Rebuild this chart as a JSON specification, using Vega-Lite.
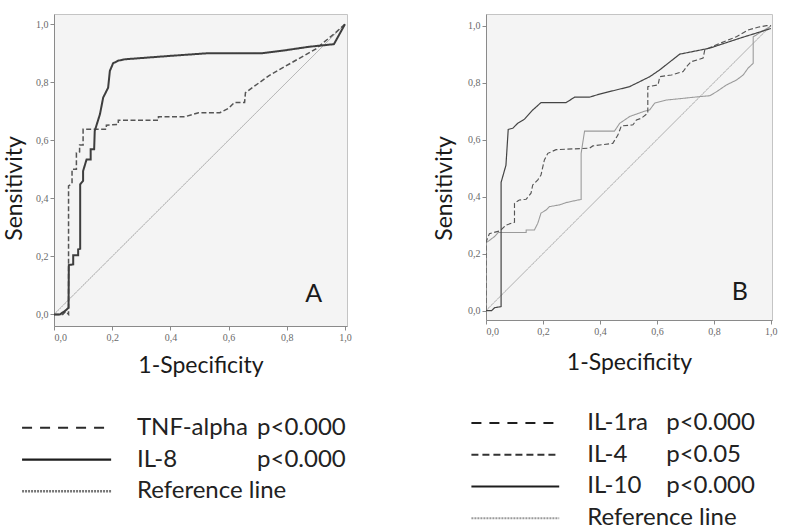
{
  "$schema": "https://vega.github.io/schema/vega-lite/v6.json",
  "background": "white",
  "padding": {"left": 3, "top": 13, "right": 0, "bottom": 0},
  "config": {
    "view": {"fill": "#f4f4f4", "stroke": "#c4c4c4", "strokeWidth": 1},
    "axis": {
      "grid": false,
      "domainColor": "#8a8a8a",
      "tickColor": "#8a8a8a",
      "tickSize": 4,
      "labelFont": "Liberation Serif",
      "labelFontSize": 10,
      "labelColor": "#6a6a6a",
      "labelPadding": 2,
      "titleFont": "Lato",
      "titleFontSize": 23,
      "titleFontWeight": "normal",
      "titleColor": "#1a1a1a"
    },
    "text": {"font": "Lato"}
  },
  "resolve": {"scale": {"x": "independent", "y": "independent", "color": "independent", "strokeDash": "independent", "strokeWidth": "independent"}},
  "spacing": 81,
  "datasets": {
    "curves": [
      {"panel": "A", "series": "Reference", "k": 0, "x": 0, "y": 0},
      {"panel": "A", "series": "Reference", "k": 1, "x": 1, "y": 1},
      {"panel": "A", "series": "TNF-alpha", "k": 0, "x": 0, "y": 0},
      {"panel": "A", "series": "TNF-alpha", "k": 1, "x": 0.03, "y": 0},
      {"panel": "A", "series": "TNF-alpha", "k": 2, "x": 0.04, "y": 0.01},
      {"panel": "A", "series": "TNF-alpha", "k": 3, "x": 0.05, "y": 0},
      {"panel": "A", "series": "TNF-alpha", "k": 4, "x": 0.05, "y": 0.443},
      {"panel": "A", "series": "TNF-alpha", "k": 5, "x": 0.062, "y": 0.45},
      {"panel": "A", "series": "TNF-alpha", "k": 6, "x": 0.062, "y": 0.5},
      {"panel": "A", "series": "TNF-alpha", "k": 7, "x": 0.077, "y": 0.5},
      {"panel": "A", "series": "TNF-alpha", "k": 8, "x": 0.077, "y": 0.557},
      {"panel": "A", "series": "TNF-alpha", "k": 9, "x": 0.088, "y": 0.56},
      {"panel": "A", "series": "TNF-alpha", "k": 10, "x": 0.088, "y": 0.584},
      {"panel": "A", "series": "TNF-alpha", "k": 11, "x": 0.1, "y": 0.584},
      {"panel": "A", "series": "TNF-alpha", "k": 12, "x": 0.1, "y": 0.638},
      {"panel": "A", "series": "TNF-alpha", "k": 13, "x": 0.18, "y": 0.638},
      {"panel": "A", "series": "TNF-alpha", "k": 14, "x": 0.18, "y": 0.652},
      {"panel": "A", "series": "TNF-alpha", "k": 15, "x": 0.221, "y": 0.655},
      {"panel": "A", "series": "TNF-alpha", "k": 16, "x": 0.221, "y": 0.669},
      {"panel": "A", "series": "TNF-alpha", "k": 17, "x": 0.359, "y": 0.669},
      {"panel": "A", "series": "TNF-alpha", "k": 18, "x": 0.359, "y": 0.681},
      {"panel": "A", "series": "TNF-alpha", "k": 19, "x": 0.45, "y": 0.681},
      {"panel": "A", "series": "TNF-alpha", "k": 20, "x": 0.497, "y": 0.695},
      {"panel": "A", "series": "TNF-alpha", "k": 21, "x": 0.57, "y": 0.695},
      {"panel": "A", "series": "TNF-alpha", "k": 22, "x": 0.6, "y": 0.71},
      {"panel": "A", "series": "TNF-alpha", "k": 23, "x": 0.62, "y": 0.73},
      {"panel": "A", "series": "TNF-alpha", "k": 24, "x": 0.655, "y": 0.73},
      {"panel": "A", "series": "TNF-alpha", "k": 25, "x": 0.658, "y": 0.764},
      {"panel": "A", "series": "TNF-alpha", "k": 26, "x": 0.738, "y": 0.822},
      {"panel": "A", "series": "TNF-alpha", "k": 27, "x": 0.818, "y": 0.868},
      {"panel": "A", "series": "TNF-alpha", "k": 28, "x": 0.899, "y": 0.914},
      {"panel": "A", "series": "TNF-alpha", "k": 29, "x": 0.968, "y": 0.971},
      {"panel": "A", "series": "TNF-alpha", "k": 30, "x": 1, "y": 1},
      {"panel": "A", "series": "IL-8", "k": 0, "x": 0, "y": 0},
      {"panel": "A", "series": "IL-8", "k": 1, "x": 0.02, "y": 0},
      {"panel": "A", "series": "IL-8", "k": 2, "x": 0.037, "y": 0.011},
      {"panel": "A", "series": "IL-8", "k": 3, "x": 0.05, "y": 0.023},
      {"panel": "A", "series": "IL-8", "k": 4, "x": 0.051, "y": 0.17},
      {"panel": "A", "series": "IL-8", "k": 5, "x": 0.066, "y": 0.172},
      {"panel": "A", "series": "IL-8", "k": 6, "x": 0.066, "y": 0.204},
      {"panel": "A", "series": "IL-8", "k": 7, "x": 0.083, "y": 0.204},
      {"panel": "A", "series": "IL-8", "k": 8, "x": 0.083, "y": 0.224},
      {"panel": "A", "series": "IL-8", "k": 9, "x": 0.09, "y": 0.226},
      {"panel": "A", "series": "IL-8", "k": 10, "x": 0.09, "y": 0.448},
      {"panel": "A", "series": "IL-8", "k": 11, "x": 0.1, "y": 0.46},
      {"panel": "A", "series": "IL-8", "k": 12, "x": 0.1, "y": 0.494},
      {"panel": "A", "series": "IL-8", "k": 13, "x": 0.112, "y": 0.534},
      {"panel": "A", "series": "IL-8", "k": 14, "x": 0.126, "y": 0.534},
      {"panel": "A", "series": "IL-8", "k": 15, "x": 0.126, "y": 0.569},
      {"panel": "A", "series": "IL-8", "k": 16, "x": 0.138, "y": 0.569},
      {"panel": "A", "series": "IL-8", "k": 17, "x": 0.14, "y": 0.632},
      {"panel": "A", "series": "IL-8", "k": 18, "x": 0.158, "y": 0.69},
      {"panel": "A", "series": "IL-8", "k": 19, "x": 0.169, "y": 0.747},
      {"panel": "A", "series": "IL-8", "k": 20, "x": 0.186, "y": 0.781},
      {"panel": "A", "series": "IL-8", "k": 21, "x": 0.192, "y": 0.839},
      {"panel": "A", "series": "IL-8", "k": 22, "x": 0.203, "y": 0.865},
      {"panel": "A", "series": "IL-8", "k": 23, "x": 0.22, "y": 0.874},
      {"panel": "A", "series": "IL-8", "k": 24, "x": 0.244, "y": 0.879},
      {"panel": "A", "series": "IL-8", "k": 25, "x": 0.39, "y": 0.89},
      {"panel": "A", "series": "IL-8", "k": 26, "x": 0.53, "y": 0.9},
      {"panel": "A", "series": "IL-8", "k": 27, "x": 0.715, "y": 0.9},
      {"panel": "A", "series": "IL-8", "k": 28, "x": 0.795, "y": 0.91},
      {"panel": "A", "series": "IL-8", "k": 29, "x": 0.876, "y": 0.922},
      {"panel": "A", "series": "IL-8", "k": 30, "x": 0.962, "y": 0.931},
      {"panel": "A", "series": "IL-8", "k": 31, "x": 1, "y": 1},
      {"panel": "B", "series": "Reference", "k": 0, "x": 0, "y": 0},
      {"panel": "B", "series": "Reference", "k": 1, "x": 1, "y": 1},
      {"panel": "B", "series": "IL-4", "k": 0, "x": 0, "y": 0},
      {"panel": "B", "series": "IL-4", "k": 1, "x": 0, "y": 0.24},
      {"panel": "B", "series": "IL-4", "k": 2, "x": 0.006, "y": 0.242},
      {"panel": "B", "series": "IL-4", "k": 3, "x": 0.03, "y": 0.26},
      {"panel": "B", "series": "IL-4", "k": 4, "x": 0.043, "y": 0.274},
      {"panel": "B", "series": "IL-4", "k": 5, "x": 0.141, "y": 0.274},
      {"panel": "B", "series": "IL-4", "k": 6, "x": 0.141, "y": 0.283},
      {"panel": "B", "series": "IL-4", "k": 7, "x": 0.17, "y": 0.283},
      {"panel": "B", "series": "IL-4", "k": 8, "x": 0.182, "y": 0.307},
      {"panel": "B", "series": "IL-4", "k": 9, "x": 0.193, "y": 0.342},
      {"panel": "B", "series": "IL-4", "k": 10, "x": 0.211, "y": 0.353},
      {"panel": "B", "series": "IL-4", "k": 11, "x": 0.223, "y": 0.365},
      {"panel": "B", "series": "IL-4", "k": 12, "x": 0.258, "y": 0.371},
      {"panel": "B", "series": "IL-4", "k": 13, "x": 0.281, "y": 0.379},
      {"panel": "B", "series": "IL-4", "k": 14, "x": 0.322, "y": 0.388},
      {"panel": "B", "series": "IL-4", "k": 15, "x": 0.334, "y": 0.39},
      {"panel": "B", "series": "IL-4", "k": 16, "x": 0.334, "y": 0.552},
      {"panel": "B", "series": "IL-4", "k": 17, "x": 0.346, "y": 0.63},
      {"panel": "B", "series": "IL-4", "k": 18, "x": 0.451, "y": 0.63},
      {"panel": "B", "series": "IL-4", "k": 19, "x": 0.469, "y": 0.657},
      {"panel": "B", "series": "IL-4", "k": 20, "x": 0.504, "y": 0.681},
      {"panel": "B", "series": "IL-4", "k": 21, "x": 0.551, "y": 0.698},
      {"panel": "B", "series": "IL-4", "k": 22, "x": 0.575, "y": 0.705},
      {"panel": "B", "series": "IL-4", "k": 23, "x": 0.592, "y": 0.728},
      {"panel": "B", "series": "IL-4", "k": 24, "x": 0.633, "y": 0.739},
      {"panel": "B", "series": "IL-4", "k": 25, "x": 0.692, "y": 0.745},
      {"panel": "B", "series": "IL-4", "k": 26, "x": 0.75, "y": 0.751},
      {"panel": "B", "series": "IL-4", "k": 27, "x": 0.785, "y": 0.754},
      {"panel": "B", "series": "IL-4", "k": 28, "x": 0.809, "y": 0.768},
      {"panel": "B", "series": "IL-4", "k": 29, "x": 0.844, "y": 0.792},
      {"panel": "B", "series": "IL-4", "k": 30, "x": 0.879, "y": 0.809},
      {"panel": "B", "series": "IL-4", "k": 31, "x": 0.903, "y": 0.827},
      {"panel": "B", "series": "IL-4", "k": 32, "x": 0.92, "y": 0.851},
      {"panel": "B", "series": "IL-4", "k": 33, "x": 0.938, "y": 0.868},
      {"panel": "B", "series": "IL-4", "k": 34, "x": 0.938, "y": 0.961},
      {"panel": "B", "series": "IL-4", "k": 35, "x": 0.996, "y": 0.996},
      {"panel": "B", "series": "IL-4", "k": 36, "x": 1, "y": 1},
      {"panel": "B", "series": "IL-1ra", "k": 0, "x": 0, "y": 0},
      {"panel": "B", "series": "IL-1ra", "k": 1, "x": 0, "y": 0.24},
      {"panel": "B", "series": "IL-1ra", "k": 2, "x": 0.012, "y": 0.27},
      {"panel": "B", "series": "IL-1ra", "k": 3, "x": 0.05, "y": 0.28},
      {"panel": "B", "series": "IL-1ra", "k": 4, "x": 0.06, "y": 0.29},
      {"panel": "B", "series": "IL-1ra", "k": 5, "x": 0.07, "y": 0.3},
      {"panel": "B", "series": "IL-1ra", "k": 6, "x": 0.1, "y": 0.31},
      {"panel": "B", "series": "IL-1ra", "k": 7, "x": 0.1, "y": 0.377},
      {"panel": "B", "series": "IL-1ra", "k": 8, "x": 0.117, "y": 0.388},
      {"panel": "B", "series": "IL-1ra", "k": 9, "x": 0.141, "y": 0.391},
      {"panel": "B", "series": "IL-1ra", "k": 10, "x": 0.158, "y": 0.412},
      {"panel": "B", "series": "IL-1ra", "k": 11, "x": 0.164, "y": 0.441},
      {"panel": "B", "series": "IL-1ra", "k": 12, "x": 0.182, "y": 0.459},
      {"panel": "B", "series": "IL-1ra", "k": 13, "x": 0.193, "y": 0.476},
      {"panel": "B", "series": "IL-1ra", "k": 14, "x": 0.205, "y": 0.529},
      {"panel": "B", "series": "IL-1ra", "k": 15, "x": 0.217, "y": 0.552},
      {"panel": "B", "series": "IL-1ra", "k": 16, "x": 0.246, "y": 0.565},
      {"panel": "B", "series": "IL-1ra", "k": 17, "x": 0.363, "y": 0.57},
      {"panel": "B", "series": "IL-1ra", "k": 18, "x": 0.375, "y": 0.578},
      {"panel": "B", "series": "IL-1ra", "k": 19, "x": 0.445, "y": 0.587},
      {"panel": "B", "series": "IL-1ra", "k": 20, "x": 0.463, "y": 0.616},
      {"panel": "B", "series": "IL-1ra", "k": 21, "x": 0.475, "y": 0.648},
      {"panel": "B", "series": "IL-1ra", "k": 22, "x": 0.516, "y": 0.652},
      {"panel": "B", "series": "IL-1ra", "k": 23, "x": 0.528, "y": 0.669},
      {"panel": "B", "series": "IL-1ra", "k": 24, "x": 0.545, "y": 0.675},
      {"panel": "B", "series": "IL-1ra", "k": 25, "x": 0.568, "y": 0.693},
      {"panel": "B", "series": "IL-1ra", "k": 26, "x": 0.568, "y": 0.786},
      {"panel": "B", "series": "IL-1ra", "k": 27, "x": 0.604, "y": 0.792},
      {"panel": "B", "series": "IL-1ra", "k": 28, "x": 0.61, "y": 0.821},
      {"panel": "B", "series": "IL-1ra", "k": 29, "x": 0.651, "y": 0.827},
      {"panel": "B", "series": "IL-1ra", "k": 30, "x": 0.692, "y": 0.839},
      {"panel": "B", "series": "IL-1ra", "k": 31, "x": 0.709, "y": 0.862},
      {"panel": "B", "series": "IL-1ra", "k": 32, "x": 0.721, "y": 0.874},
      {"panel": "B", "series": "IL-1ra", "k": 33, "x": 0.762, "y": 0.886},
      {"panel": "B", "series": "IL-1ra", "k": 34, "x": 0.768, "y": 0.915},
      {"panel": "B", "series": "IL-1ra", "k": 35, "x": 0.821, "y": 0.938},
      {"panel": "B", "series": "IL-1ra", "k": 36, "x": 0.879, "y": 0.961},
      {"panel": "B", "series": "IL-1ra", "k": 37, "x": 0.92, "y": 0.985},
      {"panel": "B", "series": "IL-1ra", "k": 38, "x": 0.961, "y": 0.996},
      {"panel": "B", "series": "IL-1ra", "k": 39, "x": 0.985, "y": 1},
      {"panel": "B", "series": "IL-1ra", "k": 40, "x": 1, "y": 1},
      {"panel": "B", "series": "IL-10", "k": 0, "x": 0, "y": 0},
      {"panel": "B", "series": "IL-10", "k": 1, "x": 0.02, "y": 0},
      {"panel": "B", "series": "IL-10", "k": 2, "x": 0.03, "y": 0.01},
      {"panel": "B", "series": "IL-10", "k": 3, "x": 0.053, "y": 0.014},
      {"panel": "B", "series": "IL-10", "k": 4, "x": 0.053, "y": 0.45},
      {"panel": "B", "series": "IL-10", "k": 5, "x": 0.07, "y": 0.51},
      {"panel": "B", "series": "IL-10", "k": 6, "x": 0.078, "y": 0.636},
      {"panel": "B", "series": "IL-10", "k": 7, "x": 0.094, "y": 0.64},
      {"panel": "B", "series": "IL-10", "k": 8, "x": 0.111, "y": 0.657},
      {"panel": "B", "series": "IL-10", "k": 9, "x": 0.135, "y": 0.672},
      {"panel": "B", "series": "IL-10", "k": 10, "x": 0.164, "y": 0.704},
      {"panel": "B", "series": "IL-10", "k": 11, "x": 0.193, "y": 0.73},
      {"panel": "B", "series": "IL-10", "k": 12, "x": 0.281, "y": 0.73},
      {"panel": "B", "series": "IL-10", "k": 13, "x": 0.311, "y": 0.749},
      {"panel": "B", "series": "IL-10", "k": 14, "x": 0.363, "y": 0.749},
      {"panel": "B", "series": "IL-10", "k": 15, "x": 0.399, "y": 0.76},
      {"panel": "B", "series": "IL-10", "k": 16, "x": 0.504, "y": 0.786},
      {"panel": "B", "series": "IL-10", "k": 17, "x": 0.575, "y": 0.821},
      {"panel": "B", "series": "IL-10", "k": 18, "x": 0.61, "y": 0.845},
      {"panel": "B", "series": "IL-10", "k": 19, "x": 0.68, "y": 0.9},
      {"panel": "B", "series": "IL-10", "k": 20, "x": 0.785, "y": 0.921},
      {"panel": "B", "series": "IL-10", "k": 21, "x": 0.891, "y": 0.956},
      {"panel": "B", "series": "IL-10", "k": 22, "x": 1, "y": 0.99}
    ],
    "legend": [
      {"panel": "A", "row": 1, "series": "TNF-alpha", "label": "TNF-alpha", "p": "p<0.000"},
      {"panel": "A", "row": 2, "series": "IL-8", "label": "IL-8", "p": "p<0.000"},
      {"panel": "A", "row": 3, "series": "Reference line", "label": "Reference line", "p": ""},
      {"panel": "B", "row": 1, "series": "IL-1ra", "label": "IL-1ra", "p": "p<0.000"},
      {"panel": "B", "row": 2, "series": "IL-4", "label": "IL-4", "p": "p<0.05"},
      {"panel": "B", "row": 3, "series": "IL-10", "label": "IL-10", "p": "p<0.000"},
      {"panel": "B", "row": 4, "series": "Reference line", "label": "Reference line", "p": ""}
    ],
    "tags": [
      {"panel": "A", "tag": "A", "x": 0.893, "y": 0.07},
      {"panel": "B", "tag": "B", "x": 0.891, "y": 0.066}
    ]
  },
  "hconcat": [
    {
      "spacing": 34,
      "resolve": {"scale": {"x": "independent", "y": "independent", "color": "independent", "strokeDash": "independent", "strokeWidth": "independent"}},
      "vconcat": [
        {
          "width": 293,
          "height": 312,
          "layer": [
            {
              "data": {"name": "curves"},
              "transform": [{"filter": "datum.panel === 'A'"}],
              "mark": {"type": "line", "clip": true},
              "encoding": {
                "x": {"field": "x", "type": "quantitative", "scale": {"domain": [0, 1.007], "nice": false, "zero": false},
                  "axis": {"title": "1-Specificity", "values": [0, 0.2, 0.4, 0.6, 0.8, 1], "labelExpr": "replace(format(datum.value, '.1f'), '.', ',')", "titlePadding": 12}},
                "y": {"field": "y", "type": "quantitative", "scale": {"domain": [-0.04, 1.035], "nice": false, "zero": false},
                  "axis": {"title": "Sensitivity", "values": [0, 0.2, 0.4, 0.6, 0.8, 1], "labelExpr": "replace(format(datum.value, '.1f'), '.', ',')", "titlePadding": 9, "titleY": 174}},
                "order": {"field": "k", "type": "quantitative"},
                "color": {"field": "series", "type": "nominal", "legend": null,
                  "scale": {"domain": ["Reference", "TNF-alpha", "IL-8"], "range": ["#a8a8a8", "#555555", "#3e3e3e"]}},
                "strokeDash": {"field": "series", "type": "nominal", "legend": null,
                  "scale": {"domain": ["Reference", "TNF-alpha", "IL-8"], "range": [[1, 0], [5, 2.5], [1, 0]]}},
                "strokeWidth": {"field": "series", "type": "nominal", "legend": null,
                  "scale": {"domain": ["Reference", "TNF-alpha", "IL-8"], "range": [1, 2, 2]}}
              }
            },
            {
              "data": {"name": "tags"},
              "transform": [{"filter": "datum.panel === 'A'"}],
              "mark": {"type": "text", "fontSize": 25, "font": "Lato", "color": "#1a1a1a", "align": "center", "baseline": "middle"},
              "encoding": {
                "x": {"field": "x", "type": "quantitative"},
                "y": {"field": "y", "type": "quantitative"},
                "text": {"field": "tag"}
              }
            }
          ]
        },
        {
          "width": 293,
          "height": 95,
          "view": {"fill": null, "stroke": null},
          "data": {"name": "legend"},
          "transform": [{"filter": "datum.panel === 'A'"}],
          "encoding": {
            "y": {"field": "row", "type": "ordinal", "scale": {"type": "point", "padding": 0.5}, "axis": null}
          },
          "layer": [
            {
              "mark": {"type": "rule"},
              "encoding": {
                "x": {"datum": -0.109, "type": "quantitative", "scale": {"domain": [0, 1], "nice": false, "zero": false}, "axis": null},
                "x2": {"datum": 0.195},
                "color": {"field": "series", "type": "nominal", "legend": null,
                  "scale": {"domain": ["TNF-alpha", "IL-8", "Reference line"], "range": ["#2a2a2a", "#1e1e1e", "#777777"]}},
                "strokeDash": {"field": "series", "type": "nominal", "legend": null,
                  "scale": {"domain": ["TNF-alpha", "IL-8", "Reference line"], "range": [[10, 8], [1, 0], [2, 1]]}},
                "strokeWidth": {"field": "series", "type": "nominal", "legend": null,
                  "scale": {"domain": ["TNF-alpha", "IL-8", "Reference line"], "range": [2, 2.5, 1]}}
              }
            },
            {
              "mark": {"type": "text", "align": "left", "baseline": "middle", "fontSize": 24, "font": "Lato", "color": "#222222"},
              "encoding": {
                "x": {"datum": 0.283, "type": "quantitative"},
                "text": {"field": "label"}
              }
            },
            {
              "mark": {"type": "text", "align": "left", "baseline": "middle", "fontSize": 24, "font": "Lato", "color": "#222222"},
              "encoding": {
                "x": {"datum": 0.693, "type": "quantitative"},
                "text": {"field": "p"}
              }
            }
          ]
        }
      ]
    },
    {
      "spacing": 32,
      "resolve": {"scale": {"x": "independent", "y": "independent", "color": "independent", "strokeDash": "independent", "strokeWidth": "independent"}},
      "vconcat": [
        {
          "width": 286,
          "height": 306,
          "layer": [
            {
              "data": {"name": "curves"},
              "transform": [{"filter": "datum.panel === 'B'"}],
              "mark": {"type": "line", "clip": true},
              "encoding": {
                "x": {"field": "x", "type": "quantitative", "scale": {"domain": [0, 1.004], "nice": false, "zero": false},
                  "axis": {"title": "1-Specificity", "values": [0, 0.2, 0.4, 0.6, 0.8, 1], "labelExpr": "replace(format(datum.value, '.1f'), '.', ',')", "titlePadding": 15}},
                "y": {"field": "y", "type": "quantitative", "scale": {"domain": [-0.033, 1.041], "nice": false, "zero": false},
                  "axis": {"title": "Sensitivity", "values": [0, 0.2, 0.4, 0.6, 0.8, 1], "labelExpr": "replace(format(datum.value, '.1f'), '.', ',')", "titlePadding": 11, "titleY": 174}},
                "order": {"field": "k", "type": "quantitative"},
                "color": {"field": "series", "type": "nominal", "legend": null,
                  "scale": {"domain": ["Reference", "IL-4", "IL-1ra", "IL-10"], "range": ["#a8a8a8", "#9a9a9a", "#555555", "#444444"]}},
                "strokeDash": {"field": "series", "type": "nominal", "legend": null,
                  "scale": {"domain": ["Reference", "IL-4", "IL-1ra", "IL-10"], "range": [[1, 0], [1, 0], [5, 2.5], [1, 0]]}},
                "strokeWidth": {"field": "series", "type": "nominal", "legend": null,
                  "scale": {"domain": ["Reference", "IL-4", "IL-1ra", "IL-10"], "range": [1, 1.2, 2, 2.2]}}
              }
            },
            {
              "data": {"name": "tags"},
              "transform": [{"filter": "datum.panel === 'B'"}],
              "mark": {"type": "text", "fontSize": 25, "font": "Lato", "color": "#1a1a1a", "align": "center", "baseline": "middle"},
              "encoding": {
                "x": {"field": "x", "type": "quantitative"},
                "y": {"field": "y", "type": "quantitative"},
                "text": {"field": "tag"}
              }
            }
          ]
        },
        {
          "width": 286,
          "height": 127,
          "view": {"fill": null, "stroke": null},
          "data": {"name": "legend"},
          "transform": [{"filter": "datum.panel === 'B'"}],
          "encoding": {
            "y": {"field": "row", "type": "ordinal", "scale": {"type": "point", "padding": 0.5}, "axis": null}
          },
          "layer": [
            {
              "mark": {"type": "rule"},
              "encoding": {
                "x": {"datum": -0.051, "type": "quantitative", "scale": {"domain": [0, 1], "nice": false, "zero": false}, "axis": null},
                "x2": {"datum": 0.256},
                "color": {"field": "series", "type": "nominal", "legend": null,
                  "scale": {"domain": ["IL-1ra", "IL-4", "IL-10", "Reference line"], "range": ["#1e1e1e", "#333333", "#1e1e1e", "#9a9a9a"]}},
                "strokeDash": {"field": "series", "type": "nominal", "legend": null,
                  "scale": {"domain": ["IL-1ra", "IL-4", "IL-10", "Reference line"], "range": [[10, 8], [7, 4], [1, 0], [2, 1]]}},
                "strokeWidth": {"field": "series", "type": "nominal", "legend": null,
                  "scale": {"domain": ["IL-1ra", "IL-4", "IL-10", "Reference line"], "range": [2, 2, 2.5, 1]}}
              }
            },
            {
              "mark": {"type": "text", "align": "left", "baseline": "middle", "fontSize": 24, "font": "Lato", "color": "#222222"},
              "encoding": {
                "x": {"datum": 0.354, "type": "quantitative"},
                "text": {"field": "label"}
              }
            },
            {
              "mark": {"type": "text", "align": "left", "baseline": "middle", "fontSize": 24, "font": "Lato", "color": "#222222"},
              "encoding": {
                "x": {"datum": 0.63, "type": "quantitative"},
                "text": {"field": "p"}
              }
            }
          ]
        }
      ]
    }
  ]
}
